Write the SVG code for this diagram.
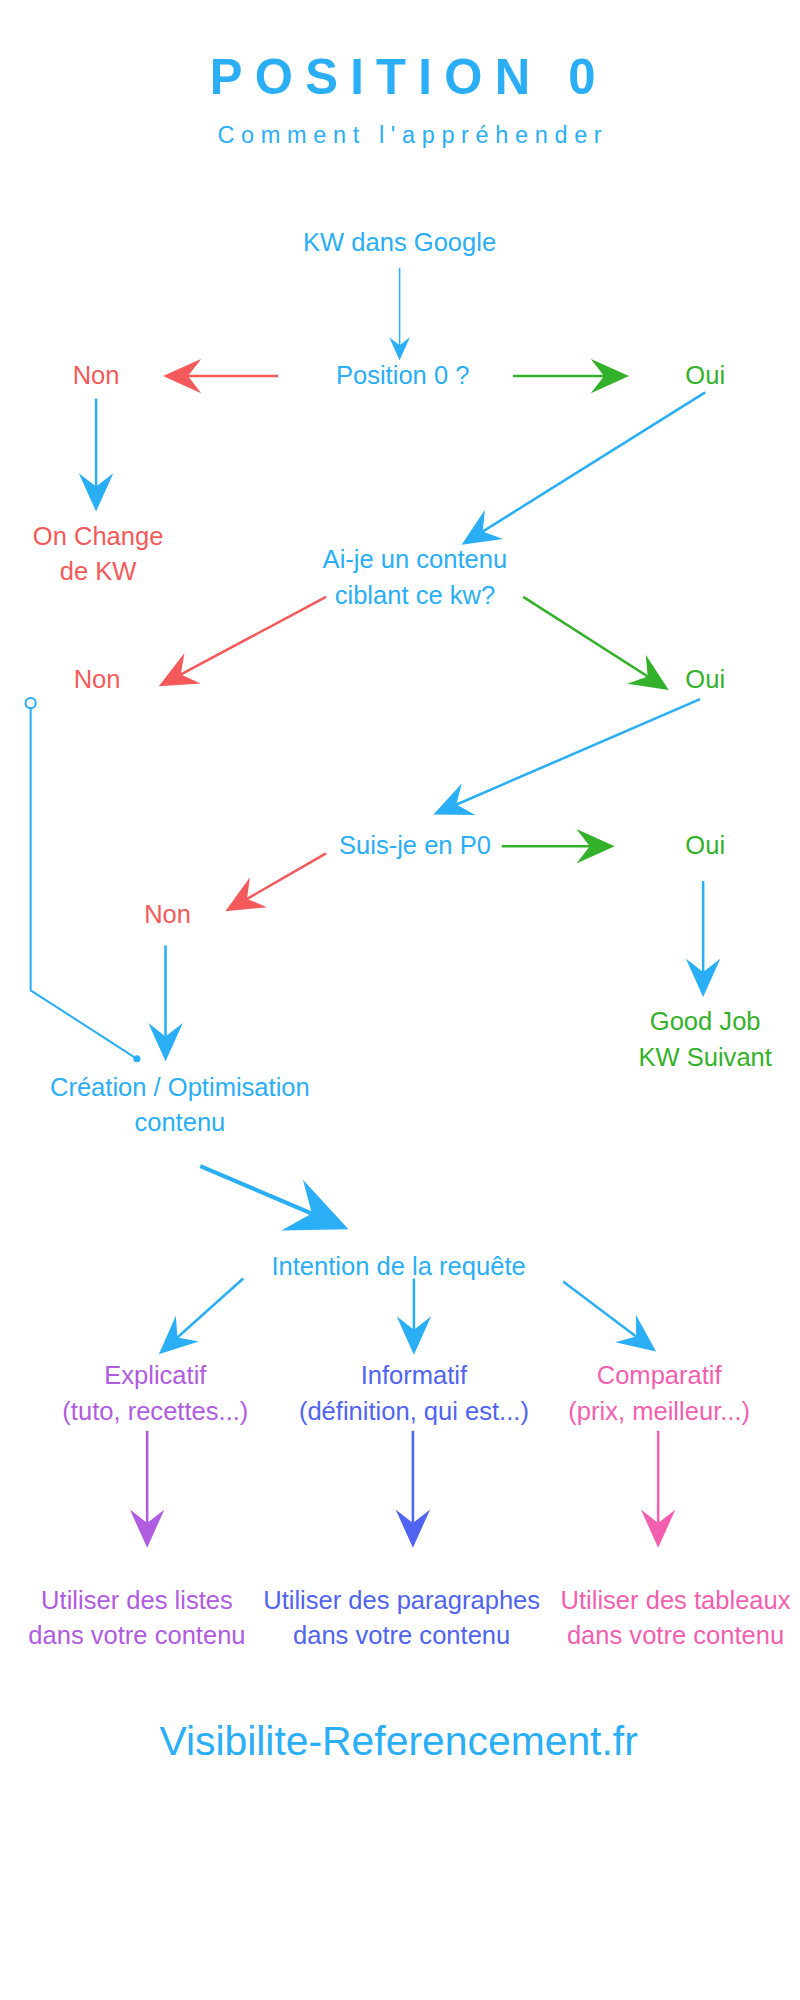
<svg xmlns="http://www.w3.org/2000/svg" width="800" height="2000" viewBox="0 0 800 2000">
<style>
text{font-family:"Liberation Sans",Arial,sans-serif;font-size:25px;text-anchor:middle}
.b{fill:#2aaef5}.r{fill:#f55a5a}.g{fill:#34b12a}.p{fill:#b05ce0}.i{fill:#5064f0}.k{fill:#f35fb0}
.lb{stroke:#2aaef5}.lr{stroke:#f55a5a}.lg{stroke:#34b12a}.lp{stroke:#b05ce0}.li{stroke:#5064f0}.lk{stroke:#f35fb0}
line,polyline{stroke-width:2.5;fill:none}
</style>
<defs>
<marker id="mB" viewBox="0 0 20 20" refX="16" refY="10" markerWidth="15" markerHeight="15" orient="auto"><path d="M0,1 L20,10 L0,19 L7,10Z" fill="#2aaef5"/></marker>
<marker id="mr" viewBox="0 0 20 20" refX="16" refY="10" markerWidth="15" markerHeight="15" orient="auto"><path d="M0,1 L20,10 L0,19 L7,10Z" fill="#f55a5a"/></marker>
<marker id="mg" viewBox="0 0 20 20" refX="16" refY="10" markerWidth="15" markerHeight="15" orient="auto"><path d="M0,1 L20,10 L0,19 L7,10Z" fill="#34b12a"/></marker>
<marker id="mp" viewBox="0 0 20 20" refX="16" refY="10" markerWidth="15" markerHeight="15" orient="auto"><path d="M0,1 L20,10 L0,19 L7,10Z" fill="#b05ce0"/></marker>
<marker id="mi" viewBox="0 0 20 20" refX="16" refY="10" markerWidth="15" markerHeight="15" orient="auto"><path d="M0,1 L20,10 L0,19 L7,10Z" fill="#5064f0"/></marker>
<marker id="mk" viewBox="0 0 20 20" refX="16" refY="10" markerWidth="15" markerHeight="15" orient="auto"><path d="M0,1 L20,10 L0,19 L7,10Z" fill="#f35fb0"/></marker>
</defs>
<g transform="scale(1.022)">
<g id="title">
<text x="400" y="92" class="b" style="font-size:48px;font-weight:bold;letter-spacing:12px">POSITION 0</text>
<text x="404" y="140" class="b" style="font-size:23px;letter-spacing:6.5px">Comment l'appréhender</text>
</g>
<g id="connectors">
<line x1="391" y1="262" x2="391" y2="348" class="lb" marker-end="url(#mB)" style="stroke-width:1.5"/>
<line x1="272" y1="368" x2="167" y2="368" class="lr" marker-end="url(#mr)"/>
<line x1="502" y1="368" x2="608" y2="368" class="lg" marker-end="url(#mg)"/>
<line x1="94" y1="390" x2="94" y2="493" class="lb" marker-end="url(#mB)"/>
<line x1="690" y1="384" x2="458" y2="529" class="lb" marker-end="url(#mB)"/>
<line x1="319" y1="584" x2="162" y2="668" class="lr" marker-end="url(#mr)"/>
<line x1="512" y1="584" x2="648" y2="671" class="lg" marker-end="url(#mg)"/>
<line x1="685" y1="684" x2="431" y2="794" class="lb" marker-end="url(#mB)"/>
<line x1="491" y1="828" x2="594" y2="828" class="lg" marker-end="url(#mg)"/>
<line x1="319" y1="835" x2="227" y2="888" class="lr" marker-end="url(#mr)"/>
<line x1="162" y1="925" x2="162" y2="1031" class="lb" marker-end="url(#mB)"/>
<line x1="688" y1="862" x2="688" y2="968" class="lb" marker-end="url(#mB)"/>
<polyline points="30,693 30,969 134,1036" class="lb" style="stroke-width:2"/>
<circle cx="30" cy="688" r="5" fill="#fff" stroke="#2aaef5" stroke-width="2"/>
<circle cx="134" cy="1036" r="3.5" fill="#2aaef5"/>
<line x1="196" y1="1141" x2="330" y2="1198" class="lb" marker-end="url(#mB)" style="stroke-width:4"/>
<line x1="238" y1="1251" x2="161" y2="1320" class="lb" marker-end="url(#mB)"/>
<line x1="405" y1="1251" x2="405" y2="1318" class="lb" marker-end="url(#mB)"/>
<line x1="551" y1="1254" x2="636" y2="1318" class="lb" marker-end="url(#mB)"/>
<line x1="144" y1="1400" x2="144" y2="1507" class="lp" marker-end="url(#mp)"/>
<line x1="404" y1="1400" x2="404" y2="1507" class="li" marker-end="url(#mi)"/>
<line x1="644" y1="1400" x2="644" y2="1507" class="lk" marker-end="url(#mk)"/>
</g>
<g id="n1"><text x="391" y="246" class="b">KW dans Google</text></g>
<g id="n2"><text x="394" y="376" class="b">Position 0 ?</text></g>
<g id="n3"><text x="94" y="376" class="r">Non</text></g>
<g id="n4"><text x="690" y="376" class="g">Oui</text></g>
<g id="n5"><text x="96" y="533" class="r">On Change</text><text x="96" y="568" class="r">de KW</text></g>
<g id="n6"><text x="406" y="556" class="b">Ai-je un contenu</text><text x="406" y="591" class="b">ciblant ce kw?</text></g>
<g id="n7"><text x="95" y="673" class="r">Non</text></g>
<g id="n8"><text x="690" y="673" class="g">Oui</text></g>
<g id="n9"><text x="406" y="836" class="b">Suis-je en P0</text></g>
<g id="n10"><text x="690" y="836" class="g">Oui</text></g>
<g id="n11"><text x="164" y="903" class="r">Non</text></g>
<g id="n12"><text x="690" y="1008" class="g">Good Job</text><text x="690" y="1043" class="g">KW Suivant</text></g>
<g id="n13"><text x="176" y="1072" class="b">Création / Optimisation</text><text x="176" y="1107" class="b">contenu</text></g>
<g id="n14"><text x="390" y="1248" class="b">Intention de la requête</text></g>
<g id="n15"><text x="152" y="1354" class="p">Explicatif</text><text x="152" y="1389" class="p">(tuto, recettes...)</text></g>
<g id="n16"><text x="405" y="1354" class="i">Informatif</text><text x="405" y="1389" class="i">(définition, qui est...)</text></g>
<g id="n17"><text x="645" y="1354" class="k">Comparatif</text><text x="645" y="1389" class="k">(prix, meilleur...)</text></g>
<g id="n18"><text x="134" y="1574" class="p">Utiliser des listes</text><text x="134" y="1609" class="p">dans votre contenu</text></g>
<g id="n19"><text x="393" y="1574" class="i">Utiliser des paragraphes</text><text x="393" y="1609" class="i">dans votre contenu</text></g>
<g id="n20"><text x="661" y="1574" class="k">Utiliser des tableaux</text><text x="661" y="1609" class="k">dans votre contenu</text></g>
<g id="footer"><text x="390" y="1717" class="b" style="font-size:40px">Visibilite-Referencement.fr</text></g>
</g>
</svg>
